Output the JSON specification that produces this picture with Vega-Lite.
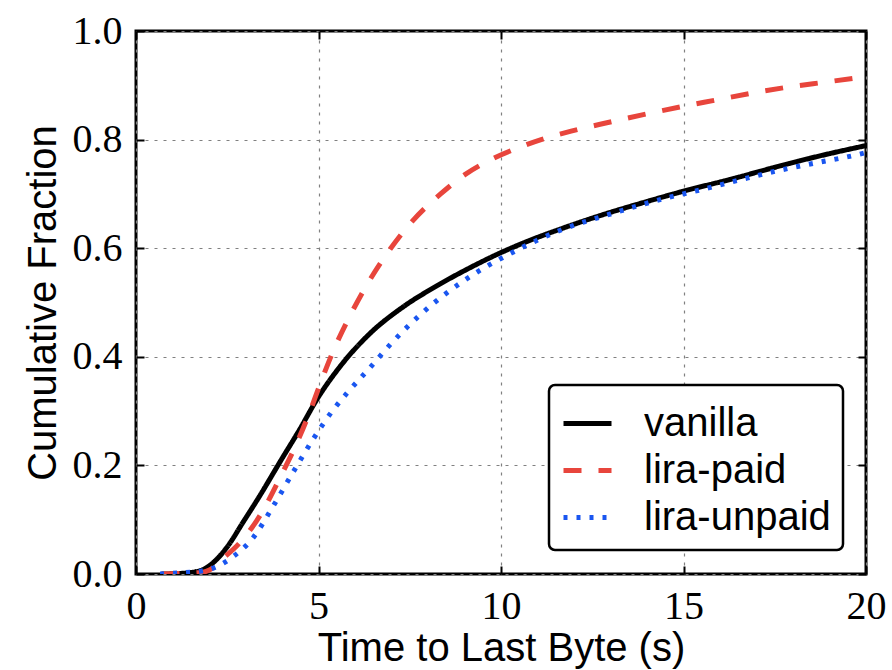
{
  "$schema": "https://vega.github.io/schema/vega-lite/v6.json",
  "autosize": {"type": "none"},
  "width": 730,
  "height": 543,
  "padding": {"left": 136, "top": 31, "right": 26, "bottom": 96},
  "background": "white",
  "config": {
    "view": {"stroke": "black", "strokeWidth": 3},
    "axis": {
      "labelFont": "Liberation Serif",
      "labelFontSize": 40,
      "labelColor": "black",
      "titleFont": "Liberation Sans",
      "titleFontSize": 40,
      "titleFontWeight": "normal",
      "titleColor": "black",
      "domain": false,
      "tickColor": "black",
      "tickWidth": 2,
      "tickSize": -8,
      "labelFlush": false,
      "labelOverlap": false,
      "gridColor": "#808080",
      "gridDash": [3, 6],
      "gridWidth": 1.2
    },
    "legend": {
      "fillColor": "white",
      "strokeColor": "black",
      "strokeWidth": 2.5,
      "cornerRadius": 6,
      "padding": 12
    }
  },
  "data": {
    "values": [
      {"t": 0.7, "f": 0.0, "s": "vanilla"},
      {"t": 1.2, "f": 0.001, "s": "vanilla"},
      {"t": 1.75, "f": 0.006, "s": "vanilla"},
      {"t": 2.1, "f": 0.02, "s": "vanilla"},
      {"t": 2.5, "f": 0.05, "s": "vanilla"},
      {"t": 2.93, "f": 0.095, "s": "vanilla"},
      {"t": 3.4, "f": 0.145, "s": "vanilla"},
      {"t": 3.95, "f": 0.207, "s": "vanilla"},
      {"t": 4.5, "f": 0.268, "s": "vanilla"},
      {"t": 4.96, "f": 0.322, "s": "vanilla"},
      {"t": 5.59, "f": 0.382, "s": "vanilla"},
      {"t": 6.41, "f": 0.443, "s": "vanilla"},
      {"t": 7.32, "f": 0.492, "s": "vanilla"},
      {"t": 8.25, "f": 0.531, "s": "vanilla"},
      {"t": 9.15, "f": 0.564, "s": "vanilla"},
      {"t": 9.97, "f": 0.591, "s": "vanilla"},
      {"t": 10.7, "f": 0.612, "s": "vanilla"},
      {"t": 11.7, "f": 0.637, "s": "vanilla"},
      {"t": 12.9, "f": 0.664, "s": "vanilla"},
      {"t": 14.0, "f": 0.686, "s": "vanilla"},
      {"t": 15.0, "f": 0.705, "s": "vanilla"},
      {"t": 16.3, "f": 0.727, "s": "vanilla"},
      {"t": 17.45, "f": 0.748, "s": "vanilla"},
      {"t": 18.55, "f": 0.767, "s": "vanilla"},
      {"t": 20.0, "f": 0.789, "s": "vanilla"},

      {"t": 0.7, "f": 0.0, "s": "lira-paid"},
      {"t": 1.3, "f": 0.001, "s": "lira-paid"},
      {"t": 1.8, "f": 0.003, "s": "lira-paid"},
      {"t": 2.03, "f": 0.008, "s": "lira-paid"},
      {"t": 2.3, "f": 0.024, "s": "lira-paid"},
      {"t": 2.85, "f": 0.058, "s": "lira-paid"},
      {"t": 3.4, "f": 0.108, "s": "lira-paid"},
      {"t": 3.95, "f": 0.178, "s": "lira-paid"},
      {"t": 4.41, "f": 0.242, "s": "lira-paid"},
      {"t": 4.77, "f": 0.3, "s": "lira-paid"},
      {"t": 5.04, "f": 0.349, "s": "lira-paid"},
      {"t": 5.4, "f": 0.41, "s": "lira-paid"},
      {"t": 5.92, "f": 0.483, "s": "lira-paid"},
      {"t": 6.41, "f": 0.542, "s": "lira-paid"},
      {"t": 6.96, "f": 0.598, "s": "lira-paid"},
      {"t": 7.56, "f": 0.649, "s": "lira-paid"},
      {"t": 8.33, "f": 0.699, "s": "lira-paid"},
      {"t": 9.0, "f": 0.735, "s": "lira-paid"},
      {"t": 9.78, "f": 0.765, "s": "lira-paid"},
      {"t": 10.4, "f": 0.783, "s": "lira-paid"},
      {"t": 11.1, "f": 0.8, "s": "lira-paid"},
      {"t": 11.95, "f": 0.816, "s": "lira-paid"},
      {"t": 12.9, "f": 0.831, "s": "lira-paid"},
      {"t": 13.9, "f": 0.846, "s": "lira-paid"},
      {"t": 14.9, "f": 0.86, "s": "lira-paid"},
      {"t": 15.9, "f": 0.873, "s": "lira-paid"},
      {"t": 16.9, "f": 0.886, "s": "lira-paid"},
      {"t": 17.9, "f": 0.897, "s": "lira-paid"},
      {"t": 18.9, "f": 0.906, "s": "lira-paid"},
      {"t": 20.0, "f": 0.916, "s": "lira-paid"},

      {"t": 0.66, "f": 0.0, "s": "lira-unpaid"},
      {"t": 1.2, "f": 0.002, "s": "lira-unpaid"},
      {"t": 1.75, "f": 0.005, "s": "lira-unpaid"},
      {"t": 2.16, "f": 0.012, "s": "lira-unpaid"},
      {"t": 2.66, "f": 0.032, "s": "lira-unpaid"},
      {"t": 3.2, "f": 0.066, "s": "lira-unpaid"},
      {"t": 3.75, "f": 0.124, "s": "lira-unpaid"},
      {"t": 4.3, "f": 0.187, "s": "lira-unpaid"},
      {"t": 4.85, "f": 0.248, "s": "lira-unpaid"},
      {"t": 5.4, "f": 0.302, "s": "lira-unpaid"},
      {"t": 5.78, "f": 0.333, "s": "lira-unpaid"},
      {"t": 6.41, "f": 0.38, "s": "lira-unpaid"},
      {"t": 7.04, "f": 0.428, "s": "lira-unpaid"},
      {"t": 7.78, "f": 0.477, "s": "lira-unpaid"},
      {"t": 8.6, "f": 0.522, "s": "lira-unpaid"},
      {"t": 9.42, "f": 0.559, "s": "lira-unpaid"},
      {"t": 10.25, "f": 0.59, "s": "lira-unpaid"},
      {"t": 11.7, "f": 0.635, "s": "lira-unpaid"},
      {"t": 13.0, "f": 0.663, "s": "lira-unpaid"},
      {"t": 14.5, "f": 0.692, "s": "lira-unpaid"},
      {"t": 15.5, "f": 0.708, "s": "lira-unpaid"},
      {"t": 16.5, "f": 0.725, "s": "lira-unpaid"},
      {"t": 17.6, "f": 0.743, "s": "lira-unpaid"},
      {"t": 18.7, "f": 0.758, "s": "lira-unpaid"},
      {"t": 19.75, "f": 0.772, "s": "lira-unpaid"},
      {"t": 20.0, "f": 0.776, "s": "lira-unpaid"}
    ]
  },
  "layer": [
    {
      "mark": {"type": "line", "strokeWidth": 5, "interpolate": "monotone", "clip": true},
      "encoding": {
        "x": {
          "field": "t", "type": "quantitative",
          "scale": {"domain": [0, 20], "nice": false},
          "axis": {"values": [0, 5, 10, 15, 20], "title": "Time to Last Byte (s)", "labelPadding": 20, "titleBaseline": "alphabetic", "titleY": 86}
        },
        "y": {
          "field": "f", "type": "quantitative",
          "scale": {"domain": [0, 1], "nice": false},
          "axis": {"values": [0, 0.2, 0.4, 0.6, 0.8, 1.0], "format": ".1f", "title": "Cumulative Fraction", "labelPadding": 22, "titleBaseline": "alphabetic", "titleX": -81}
        },
        "color": {
          "field": "s", "type": "nominal",
          "scale": {"domain": ["vanilla", "lira-paid", "lira-unpaid"], "range": ["#000000", "#e8453c", "#1a56f0"]},
          "legend": {
            "title": null,
            "orient": "none",
            "legendX": 413,
            "legendY": 354,
            "symbolType": "stroke",
            "symbolSize": 2304,
            "symbolStrokeWidth": 5,
            "labelFont": "Liberation Sans",
            "labelFontSize": 40,
            "labelColor": "black",
            "labelLimit": 400,
            "labelOffset": 30,
            "rowPadding": 0
          }
        },
        "strokeDash": {
          "field": "s", "type": "nominal",
          "scale": {"domain": ["vanilla", "lira-paid", "lira-unpaid"], "range": [[1, 0], [18, 17], [4, 9]]},
          "legend": null
        }
      }
    },
    {
      "mark": {"type": "point", "opacity": 0},
      "encoding": {
        "x": {
          "field": "t", "type": "quantitative",
          "axis": {"orient": "top", "values": [0, 5, 10, 15, 20], "labels": false, "grid": false, "title": null}
        },
        "y": {
          "field": "f", "type": "quantitative",
          "axis": {"orient": "right", "values": [0, 0.2, 0.4, 0.6, 0.8, 1.0], "labels": false, "grid": false, "title": null}
        }
      }
    }
  ],
  "resolve": {"axis": {"x": "independent", "y": "independent"}}
}
